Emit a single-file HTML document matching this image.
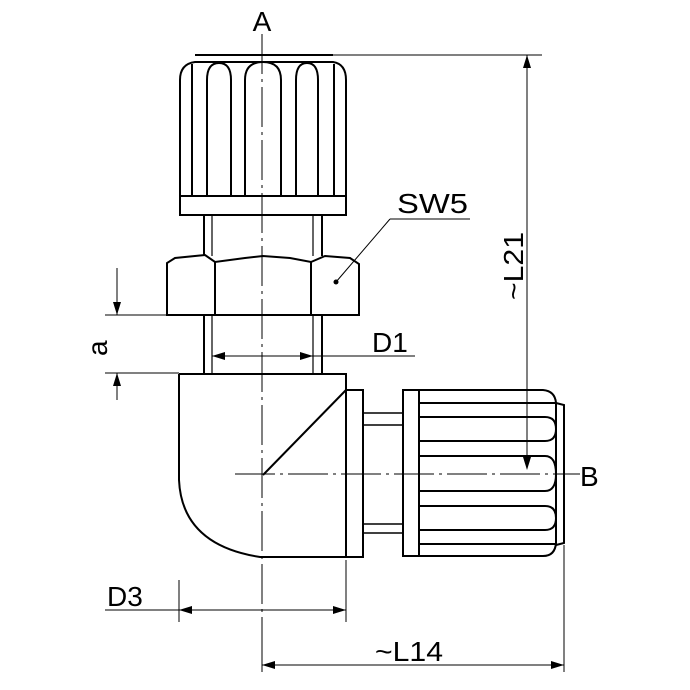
<!DOCTYPE html>
<html><head><style>html,body{margin:0;padding:0;background:#fff}svg{display:block}</style></head>
<body>
<svg width="690" height="690" viewBox="0 0 690 690" xmlns="http://www.w3.org/2000/svg" font-family="Liberation Sans, sans-serif">
<g fill="none" stroke="#000" stroke-width="2">
<path d="M195 55 L333 55 M180 215 L180 80 Q180 64 195 62 L333 62 Q346 64 346 80 L346 215 Z"/>
<line x1="180" y1="196" x2="346" y2="196"/>
<path d="M192 196 V64 M334 196 V64"/>
<path d="M207 196 V80 Q207 63 219 63 Q231 63 231 80 V196"/>
<path d="M245 196 V80 Q245 62 263 62 Q281 62 281 80 V196"/>
<path d="M296 196 V80 Q296 63 307 63 Q318 63 318 80 V196"/>
<path d="M204 215 V256 M322 215 V256 M204 315 V373 M322 315 V373"/>
<path d="M212 215 V256 M313 215 V256 M212 315 V373 M313 315 V373" stroke-width="1.2"/>
<path d="M167 315 V263 L175 258 L205 255 L215 262 L245 258 L263 256 L290 258 L311 262 L325 256 L350 258 L359 264 V315 Z"/>
<path d="M215 262 V315 M311 262 V315"/>
<path d="M179 374 H346 V390 M179 374 V480 Q182 545 260 557 H363 V390 H346"/>
<line x1="263" y1="475" x2="346" y2="390"/>
<line x1="346" y1="390" x2="346" y2="557"/>
<path d="M363 413 H403 M363 425 H403 M363 524 H403 M363 533 H403" stroke-width="1.5"/>
<path d="M403 390 H543 Q555 391 556 403 V543 Q555 556 543 556 H403 Z"/>
<line x1="419" y1="390" x2="419" y2="556"/>
<path d="M556 403 L564 405 V543 L556 545"/>
<path d="M419 403 H556 M419 544 H556"/>
<path d="M419 417 H545 Q556 417 556 429 Q556 441 545 441 H419"/>
<path d="M419 456 H545 Q556 456 556 474 Q556 491 545 491 H419"/>
<path d="M419 506 H545 Q556 506 556 518 Q556 530 545 530 H419"/>
</g>
<g stroke="#000" stroke-width="1" fill="none">
<line x1="262" y1="34" x2="262" y2="650" stroke-dasharray="40,5,3,5"/>
<line x1="235" y1="474" x2="580" y2="474" stroke-dasharray="40,5,3,5"/>
<line x1="333" y1="55" x2="542" y2="55"/>
<line x1="527" y1="55" x2="527" y2="468"/>
<line x1="179" y1="580" x2="179" y2="622"/>
<line x1="346" y1="560" x2="346" y2="622"/>
<line x1="105" y1="610" x2="346" y2="610"/>
<line x1="262" y1="650" x2="262" y2="672"/>
<line x1="564" y1="545" x2="564" y2="672"/>
<line x1="262" y1="665" x2="564" y2="665"/>
<line x1="212" y1="356" x2="415" y2="356"/>
<line x1="105" y1="315" x2="167" y2="315"/>
<line x1="105" y1="373" x2="179" y2="373"/>
<line x1="117" y1="268" x2="117" y2="315"/>
<line x1="117" y1="373" x2="117" y2="400"/>
<line x1="390" y1="219" x2="470" y2="219"/>
<line x1="390" y1="219" x2="336" y2="282"/>
</g>
<g fill="#000">
<circle cx="336" cy="282" r="2.5"/>
<polygon points="527,55 523,68 531,68"/>
<polygon points="527,470 523,457 531,457"/>
<polygon points="179,610 192,606 192,614"/>
<polygon points="346,610 333,606 333,614"/>
<polygon points="262,665 275,661 275,669"/>
<polygon points="564,665 551,661 551,669"/>
<polygon points="212,356 225,352 225,360"/>
<polygon points="313,356 300,352 300,360"/>
<polygon points="117,315 113,302 121,302"/>
<polygon points="117,373 113,386 121,386"/>
</g>
<g font-size="28" fill="#000">
<text x="262" y="31" text-anchor="middle">A</text>
<text x="580" y="486">B</text>
<text x="397" y="213" textLength="71" lengthAdjust="spacingAndGlyphs">SW5</text>
<text x="372" y="352">D1</text>
<text x="107" y="606">D3</text>
<text x="375" y="661" textLength="68" lengthAdjust="spacingAndGlyphs">~L14</text>
<text transform="translate(523,300) rotate(-90)" textLength="68" lengthAdjust="spacingAndGlyphs">~L21</text>
<text transform="translate(107,356) rotate(-90)">a</text>
</g>
</svg>
</body></html>
